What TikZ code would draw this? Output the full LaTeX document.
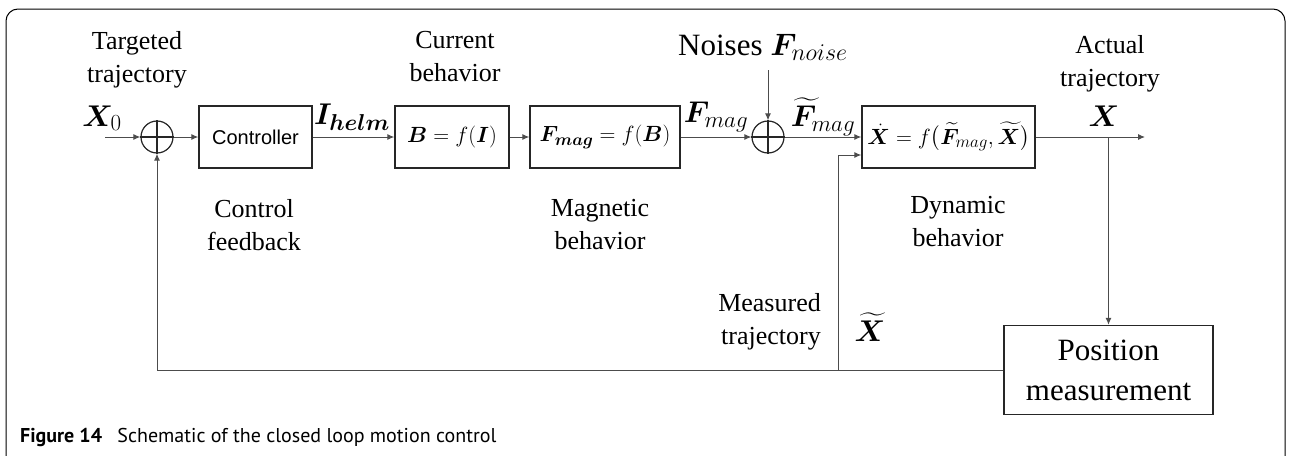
\documentclass[tikz,border=0pt]{standalone}
\usepackage{fix-cm}
\usepackage{amsmath,bm}
\usepackage{fontspec}
\setmainfont{Liberation Serif}
\newfontfamily\ctrlfont{Liberation Sans}
\newfontfamily\capfont{PT Sans}
\DeclareMathSizes{30}{30}{23}{18}
\DeclareMathSizes{31}{31}{24}{19}
\DeclareMathSizes{22}{22}{17}{13}
\usetikzlibrary{arrows.meta}
\begin{document}
\begin{tikzpicture}[x=1pt,y=-1pt,
  line/.style={draw=black!70, line width=1pt},
  arr/.style={line, -{Latex[length=7pt,width=6pt]}},
  blk/.style={draw=black!85, line width=1.4pt, minimum height=62pt, inner sep=0pt},
  sumc/.style={circle, draw=black!85, line width=1.2pt, minimum size=32pt, inner sep=0pt},
  lbl/.style={font=\fontsize{26}{33}\selectfont, align=center, inner sep=0pt},
  big/.style={font=\fontsize{31}{40}\selectfont, align=center, inner sep=0pt},
  mlbl/.style={font=\fontsize{30}{36}\selectfont, inner sep=0pt},
  bmath/.style={font=\fontsize{22}{26}\selectfont}]
\useasboundingbox (0,0) rectangle (1290,455);
\clip (0,0) rectangle (1290,455);
\draw[black, line width=1pt, rounded corners=12pt] (6,480) -- (6,9) -- (1285,9) -- (1285,480);

% blocks
\node[sumc] (s1) at (157,137) {};
\draw[black!85, line width=1.2pt] (s1.north) -- (s1.south) (s1.west) -- (s1.east);
\node[blk, minimum width=113pt, font=\ctrlfont\fontsize{20}{24}\selectfont] (ctrl) at (255.5,137) {Controller};
\node[blk, minimum width=114pt, bmath] (bbox) at (452,137) {$\bm{B}=f(\bm{I})$};
\node[blk, minimum width=150pt, bmath] (fbox) at (605,137) {$\bm{F}_{\bm{mag}}=f(\bm{B})$};
\node[sumc] (s2) at (768,137) {};
\draw[black!85, line width=1.2pt] (s2.north) -- (s2.south) (s2.west) -- (s2.east);
\node[blk, minimum width=173pt, bmath] (dyn) at (948.5,137) {$\dot{\bm{X}}=f\bigl(\widetilde{\bm{F}}_{mag},\widetilde{\bm{X}}\bigr)$};
\node[blk, minimum width=209pt, minimum height=89pt, big] (pos) at (1108.5,370) {Position\\measurement};

% free ends
\coordinate (in) at (105,137);
\coordinate (ntop) at (768,70);
\coordinate (out) at (1145,137);
\coordinate (br) at (1108.5,137);
\coordinate (fbA) at (838,370);
\coordinate (fbL) at (157,370);

% connectors
\draw[arr] (in) -- (s1.west);
\draw[arr] (s1.east) -- (ctrl.west);
\draw[arr] (ctrl.east) -- (bbox.west);
\draw[arr] (bbox.east) -- (fbox.west);
\draw[arr] (fbox.east) -- (s2.west);
\draw[arr] (ntop) -- (s2.north);
\draw[arr] (s2.east) -- (dyn.west);
\draw[arr] (dyn.east) -- (out);
\draw[arr] (br) -- (pos.north);
\draw[line] (pos.west) -- (fbL);
\draw[arr] (fbL) -- (s1.south);
\draw[arr] (fbA) |- ([yshift=-18pt]dyn.west);

% labels
\node[lbl] (t1) at (137,60) {Targeted\\trajectory};
\node[mlbl] (x0) at (102,118) {$\bm{X}_0$};
\node[lbl] (t2) at (254,225) {Control\\feedback};
\node[mlbl] (ih) at (352,117) {$\bm{I}_{\bm{helm}}$};
\node[lbl] (t3) at (455,57) {Current\\behavior};
\node[lbl] (t4) at (600,225) {Magnetic\\behavior};
\node[mlbl] (fm) at (716,117) {$\bm{F}_{mag}$};
\node[big, anchor=west] (nz) at (678,47) {Noises $\bm{F}_{noise}$};
\node[mlbl] (ftm) at (823,117) {$\widetilde{\bm{F}}_{mag}$};
\node[lbl] (t5) at (958,222) {Dynamic\\behavior};
\node[lbl] (t6) at (1110,64) {Actual\\trajectory};
\node[mlbl] (xo) at (1104,116) {$\bm{X}$};
\node[lbl, align=right, anchor=east] (t7) at (821,322) {Measured\\trajectory};
\node[mlbl] (xt) at (870,327) {$\widetilde{\bm{X}}$};
\node[anchor=west, inner sep=0pt, font=\capfont\fontsize{20}{24}\selectfont] (cap) at (20,437) {\textbf{Figure 14}\hspace{0.5em} Schematic of the closed loop motion control};
\end{tikzpicture}
\end{document}
